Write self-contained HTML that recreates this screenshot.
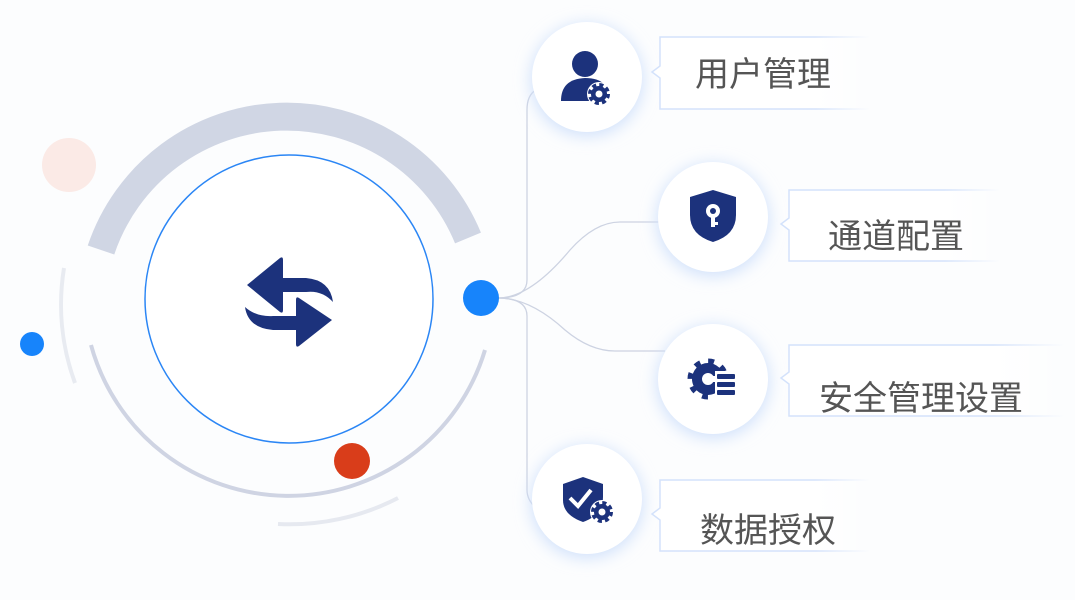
<!DOCTYPE html>
<html><head><meta charset="utf-8"><style>
html,body{margin:0;padding:0;width:1075px;height:600px;overflow:hidden;background:#fcfdfe;}
svg{position:absolute;left:0;top:0}
.lbl{font-family:"Liberation Sans","Noto Sans CJK SC",sans-serif;font-size:34px;fill:#555;}
</style></head><body>
<svg width="1075" height="600" viewBox="0 0 1075 600" xmlns="http://www.w3.org/2000/svg">
<defs>
<filter id="sh" x="-50%" y="-50%" width="200%" height="200%"><feGaussianBlur stdDeviation="8"/></filter>
<linearGradient id="bx" x1="0" x2="1" y1="0" y2="0"><stop offset="0" stop-color="#fff"/><stop offset="0.75" stop-color="#fff"/><stop offset="1" stop-color="#fff" stop-opacity="0"/></linearGradient>
<linearGradient id="bs" x1="0" x2="1" y1="0" y2="0"><stop offset="0" stop-color="#d4e2fb"/><stop offset="0.75" stop-color="#d4e2fb"/><stop offset="1" stop-color="#d4e2fb" stop-opacity="0"/></linearGradient>
</defs>
<circle cx="69" cy="165" r="27" fill="#fbeae6"/>
<circle cx="32" cy="344" r="12" fill="#1784fb"/>
<path d="M101 250 A196 196 0 0 1 468 238" fill="none" stroke="#d0d6e4" stroke-width="28"/>
<circle cx="289" cy="299" r="144" fill="#fff" stroke="#2b86f5" stroke-width="1.5"/>
<path d="M91 345 A205 205 0 0 0 485 350" fill="none" stroke="#cfd4e3" stroke-width="4"/>
<path d="M64 268 A228 228 0 0 0 75 383" fill="none" stroke="#e8ebf1" stroke-width="4"/>
<path d="M278 524 A235 235 0 0 0 398 498" fill="none" stroke="#e6e9f0" stroke-width="4"/>
<circle cx="352" cy="461" r="18" fill="#d93d1a"/>
<path d="M247 285 L280 258 Q283 256 283 260 L283 278 L306 278 Q330 280 333 302 Q322 290 306 292 L283 292 L283 310 Q283 314 280 312 Z" fill="#1c327c"/>
<path d="M332 320 L299 346 Q296 348 296 344 L296 330 L273 330 Q248 328 245 307 Q256 317 273 316 L296 316 L296 300 Q296 296 299 298 Z" fill="#1c327c"/>
<g fill="none" stroke="#cdd3e2" stroke-width="1.3">
<path d="M536 90 Q527 95 527 110 L527 280 Q527 298 498 298"/>
<path d="M536 508 Q527 500 527 490 L527 316 Q527 298 498 298"/>
<path d="M498 298 Q530 298 570 250 Q595 222 620 222 L660 222"/>
<path d="M498 298 Q530 298 565 330 Q590 351 615 351 L665 351"/>
</g>
<circle cx="481" cy="298" r="18" fill="#1784fb"/>
<g>
<circle cx="587" cy="80" r="56" fill="#cfe0fb" filter="url(#sh)"/>
<circle cx="713" cy="220" r="56" fill="#cfe0fb" filter="url(#sh)"/>
<circle cx="713" cy="382" r="56" fill="#cfe0fb" filter="url(#sh)"/>
<circle cx="587" cy="502" r="56" fill="#cfe0fb" filter="url(#sh)"/>
<circle cx="587" cy="77" r="55" fill="#fff"/>
<circle cx="713" cy="217" r="55" fill="#fff"/>
<circle cx="713" cy="379" r="55" fill="#fff"/>
<circle cx="587" cy="499" r="55" fill="#fff"/>
</g>
<g fill="#1c327c">
<circle cx="585" cy="64" r="13"/>
<path d="M561 101 Q561 79 585 78 Q598 78 604 84 L604 101 Z"/>
<circle cx="599" cy="94" r="12" fill="#fff"/>
<circle cx="599" cy="94" r="8"/>
<circle cx="599" cy="94" r="9" fill="none" stroke="#1c327c" stroke-width="4" stroke-dasharray="4 3.07"/>
<circle cx="599" cy="94" r="3.5" fill="#fff"/>
<path d="M690 197 L713 190 L736 197 L736 215 Q736 235 713 242 Q690 235 690 215 Z"/>
<circle cx="713" cy="211" r="7" fill="#fff"/><circle cx="713" cy="211" r="3"/>
<rect x="711" y="215" width="4" height="12" fill="#fff"/><rect x="713" y="222" width="5" height="3" fill="#fff"/>
<circle cx="708" cy="379" r="16"/>
<circle cx="708" cy="379" r="18" fill="none" stroke="#1c327c" stroke-width="5" stroke-dasharray="6 8.14"/>
<circle cx="708" cy="379" r="6" fill="#fff"/>
<rect x="708" y="376" width="10" height="6" fill="#fff"/>
<rect x="715" y="371" width="24" height="30" fill="#fff"/>
<rect x="717" y="374" width="18" height="5" rx="1"/><rect x="717" y="382" width="18" height="5" rx="1"/><rect x="717" y="390" width="18" height="5" rx="1"/>
<path d="M563 484 L583 477 L603 484 L603 497 Q603 515 583 522 Q563 515 563 500 Z"/>
<path d="M570 498 L578 506 L591 490" fill="none" stroke="#fff" stroke-width="4"/>
<circle cx="602" cy="512" r="12" fill="#fff"/>
<circle cx="602" cy="512" r="8"/>
<circle cx="602" cy="512" r="9" fill="none" stroke="#1c327c" stroke-width="4" stroke-dasharray="4 3.07"/>
<circle cx="602" cy="512" r="3.5" fill="#fff"/>
</g>
<g stroke="url(#bs)" stroke-width="1.5" fill="url(#bx)">
<path d="M660 37 L870 37 L870 109 L660 109 L660 78 L652 72 L660 66 Z"/>
<path d="M789 190 L1000 190 L1000 261 L789 261 L789 230 L781 224 L789 218 Z"/>
<path d="M789 345 L1065 345 L1065 416 L789 416 L789 384 L781 378 L789 372 Z"/>
<path d="M660 480 L870 480 L870 551 L660 551 L660 520 L652 514 L660 508 Z"/>
</g>
<text class="lbl" x="695" y="86">用户管理</text>
<text class="lbl" x="828" y="248">通道配置</text>
<text class="lbl" x="819" y="410">安全管理设置</text>
<text class="lbl" x="700" y="542">数据授权</text>
</svg>
</body></html>
